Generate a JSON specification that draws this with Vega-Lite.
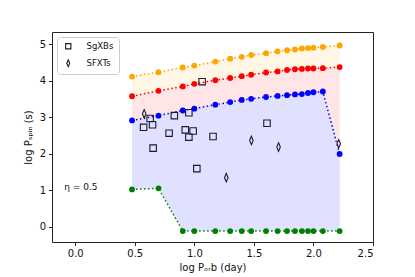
{
  "$schema": "https://vega.github.io/schema/vega-lite/v6.json",
  "width": 321,
  "height": 210,
  "autosize": {"type": "none"},
  "padding": {"left": 52, "top": 32, "right": 42, "bottom": 35},
  "background": "white",
  "config": {
    "view": {"stroke": "#222222", "strokeWidth": 1},
    "font": "DejaVu Sans",
    "axis": {
      "grid": false,
      "domain": false,
      "tickColor": "#222222",
      "tickSize": 3.5,
      "labelFontSize": 10,
      "labelColor": "#111111",
      "titleFontSize": 10,
      "titleFontWeight": "normal",
      "titleColor": "#111111",
      "labelFont": "DejaVu Sans",
      "titleFont": "DejaVu Sans"
    },
    "legend": {
      "labelFont": "DejaVu Sans",
      "labelFontSize": 8.5,
      "labelColor": "#111111"
    }
  },
  "datasets": {
    "curves": [
      {"x": 0.477, "o": 4.11, "r": 3.57, "b": 2.91, "g": 1.02},
      {"x": 0.699, "o": 4.23, "r": 3.72, "b": 3.04, "g": 1.05},
      {"x": 0.903, "o": 4.36, "r": 3.84, "b": 3.18, "g": -0.12},
      {"x": 1.0, "o": 4.41, "r": 3.91, "b": 3.23, "g": -0.12},
      {"x": 1.176, "o": 4.52, "r": 4.01, "b": 3.34, "g": -0.12},
      {"x": 1.301, "o": 4.6, "r": 4.07, "b": 3.41, "g": -0.12},
      {"x": 1.398, "o": 4.65, "r": 4.12, "b": 3.47, "g": -0.12},
      {"x": 1.477, "o": 4.7, "r": 4.16, "b": 3.5, "g": -0.12},
      {"x": 1.602, "o": 4.75, "r": 4.22, "b": 3.55, "g": -0.12},
      {"x": 1.699, "o": 4.8, "r": 4.25, "b": 3.58, "g": -0.12},
      {"x": 1.778, "o": 4.83, "r": 4.29, "b": 3.6, "g": -0.12},
      {"x": 1.845, "o": 4.85, "r": 4.31, "b": 3.62, "g": -0.12},
      {"x": 1.903, "o": 4.88, "r": 4.32, "b": 3.63, "g": -0.12},
      {"x": 1.954, "o": 4.89, "r": 4.33, "b": 3.66, "g": -0.12},
      {"x": 2.0, "o": 4.9, "r": 4.33, "b": 3.68, "g": -0.12},
      {"x": 2.079, "o": 4.92, "r": 4.34, "b": 3.7, "g": -0.12},
      {"x": 2.22, "o": 4.96, "r": 4.37, "b": 1.99, "g": -0.12}
    ],
    "stars": [
      {"type": "SgXBs", "x": 0.629, "y": 2.96},
      {"type": "SgXBs", "x": 0.574, "y": 2.72},
      {"type": "SgXBs", "x": 0.649, "y": 2.79},
      {"type": "SgXBs", "x": 0.832, "y": 3.04},
      {"type": "SgXBs", "x": 0.954, "y": 3.12},
      {"type": "SgXBs", "x": 0.788, "y": 2.56},
      {"type": "SgXBs", "x": 0.924, "y": 2.65},
      {"type": "SgXBs", "x": 0.99, "y": 2.62},
      {"type": "SgXBs", "x": 0.954, "y": 2.45},
      {"type": "SgXBs", "x": 1.157, "y": 2.47},
      {"type": "SgXBs", "x": 0.654, "y": 2.15},
      {"type": "SgXBs", "x": 1.021, "y": 1.59},
      {"type": "SgXBs", "x": 1.065, "y": 3.97},
      {"type": "SgXBs", "x": 1.61, "y": 2.83},
      {"type": "SFXTs", "x": 0.579, "y": 3.09},
      {"type": "SFXTs", "x": 1.479, "y": 2.36},
      {"type": "SFXTs", "x": 1.268, "y": 1.34},
      {"type": "SFXTs", "x": 1.707, "y": 2.18},
      {"type": "SFXTs", "x": 2.212, "y": 2.27}
    ],
    "note": [{"x": -0.092, "y": 1.095, "label": "η = 0.5"}]
  },
  "encoding": {
    "x": {
      "field": "x", "type": "quantitative",
      "scale": {"domain": [-0.195, 2.5], "nice": false, "zero": false},
      "axis": {"values": [0, 0.5, 1, 1.5, 2, 2.5], "format": ".1f", "title": "log Pₒᵣb (day)", "titlePadding": 4, "labelPadding": 3}
    }
  },
  "layer": [
    {
      "data": {"name": "curves"},
      "mark": {"type": "area", "color": "#FFA500", "opacity": 0.1},
      "encoding": {
        "y": {"field": "o", "type": "quantitative", "scale": {"domain": [-0.42, 5.33], "nice": false, "zero": false},
          "axis": {"values": [0, 1, 2, 3, 4, 5], "title": "log Pₛₚᵢₙ (s)", "titlePadding": 6, "labelPadding": 3}},
        "y2": {"field": "r"}
      }
    },
    {
      "data": {"name": "curves"},
      "mark": {"type": "area", "color": "#FF0000", "opacity": 0.1},
      "encoding": {"y": {"field": "r", "type": "quantitative"}, "y2": {"field": "b"}}
    },
    {
      "data": {"name": "curves"},
      "mark": {"type": "area", "color": "#0000FF", "opacity": 0.12},
      "encoding": {"y": {"field": "b", "type": "quantitative"}, "y2": {"field": "g"}}
    },
    {
      "data": {"name": "curves"},
      "mark": {"type": "line", "color": "#FFA500", "strokeWidth": 1.5, "strokeDash": [1.5, 2.5],
        "point": {"filled": true, "size": 34, "color": "#FFA500", "opacity": 1}},
      "encoding": {"y": {"field": "o", "type": "quantitative"}}
    },
    {
      "data": {"name": "curves"},
      "mark": {"type": "line", "color": "#FF0000", "strokeWidth": 1.5, "strokeDash": [1.5, 2.5],
        "point": {"filled": true, "size": 34, "color": "#FF0000", "opacity": 1}},
      "encoding": {"y": {"field": "r", "type": "quantitative"}}
    },
    {
      "data": {"name": "curves"},
      "mark": {"type": "line", "color": "#0000FF", "strokeWidth": 1.5, "strokeDash": [1.5, 2.5],
        "point": {"filled": true, "size": 34, "color": "#0000FF", "opacity": 1}},
      "encoding": {"y": {"field": "b", "type": "quantitative"}}
    },
    {
      "data": {"name": "curves"},
      "mark": {"type": "line", "color": "#008000", "strokeWidth": 1.5, "strokeDash": [1.5, 2.5],
        "point": {"filled": true, "size": 34, "color": "#008000", "opacity": 1}},
      "encoding": {"y": {"field": "g", "type": "quantitative"}}
    },
    {
      "data": {"name": "stars"},
      "mark": {"type": "point", "filled": false, "stroke": "#1a1a2e", "strokeWidth": 1.1, "size": 42, "opacity": 1},
      "encoding": {
        "y": {"field": "y", "type": "quantitative"},
        "shape": {
          "field": "type", "type": "nominal",
          "scale": {"domain": ["SgXBs", "SFXTs"], "range": ["square", "M0,-1.3L0.55,0L0,1.3L-0.55,0Z"]},
          "legend": {
            "title": null, "orient": "none", "legendX": 5, "legendY": 5,
            "padding": 5, "strokeColor": "#cccccc", "fillColor": "white", "cornerRadius": 3,
            "symbolSize": 28, "symbolStrokeWidth": 1.1, "symbolStrokeColor": "#1a1a2e", "symbolFillColor": "transparent",
            "labelOffset": 14, "rowPadding": 5, "symbolOffset": 2
          }
        }
      }
    },
    {
      "data": {"name": "note"},
      "mark": {"type": "text", "align": "left", "baseline": "middle", "fontSize": 9, "font": "DejaVu Sans", "color": "#111111"},
      "encoding": {"y": {"field": "y", "type": "quantitative"}, "text": {"field": "label"}}
    }
  ]
}
